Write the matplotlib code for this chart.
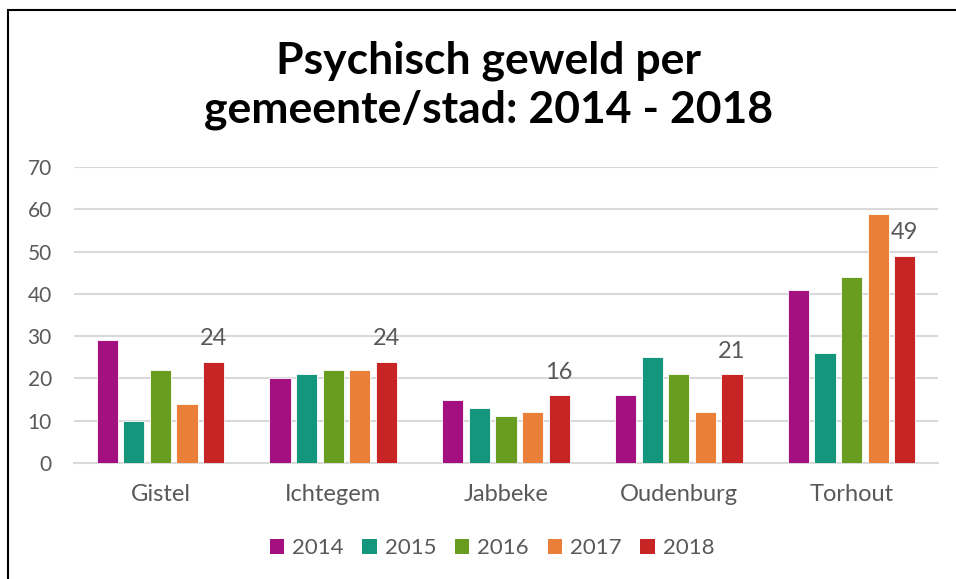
import numpy as np
import matplotlib.pyplot as plt
from matplotlib.patches import Patch, Rectangle

# data
gemeenten = ['Gistel', 'Ichtegem', 'Jabbeke', 'Oudenburg', 'Torhout']
jaren = ['2014', '2015', '2016', '2017', '2018']
v2014 = [29, 20, 15, 16, 41]
v2015 = [10, 21, 13, 25, 26]
v2016 = [22, 22, 11, 21, 44]
v2017 = [14, 22, 12, 12, 59]
v2018 = [24, 24, 16, 21, 49]
reeksen = [v2014, v2015, v2016, v2017, v2018]
kleuren = ['#A4107F', '#14967C', '#699D20', '#E97F38', '#C62425']

plt.rcParams['font.family'] = ['Lato', 'DejaVu Sans']
grijs = '#595959'

fig = plt.figure(figsize=(9.56, 5.79), dpi=100)
ax = fig.add_axes([74/956, 1-463/579, (938-74)/956, (463-167)/579])

x = np.arange(len(gemeenten))
breedte = 0.122
stap = 0.154
for i, (vals, kl) in enumerate(zip(reeksen, kleuren)):
    bars = ax.bar(x + (i-2)*stap, vals, breedte, color=kl, edgecolor='white',
                  linewidth=0.6, label=jaren[i], zorder=3)
    if i == 4:
        for b, v in zip(bars, vals):
            ax.annotate(str(v), (b.get_x()+b.get_width()/2, v), xytext=(0, 9),
                        textcoords='offset points', ha='center', va='bottom',
                        fontsize=17, color=grijs)

ax.set_xlim(-0.5, 4.5)
ax.set_ylim(0, 70)
ax.set_yticks(range(0, 71, 10))
ax.set_xticks(x)
ax.set_xticklabels(gemeenten)
ax.yaxis.grid(True, color='#D9D9D9', linewidth=1.5, zorder=0)
for s in ['top', 'right', 'left']:
    ax.spines[s].set_visible(False)
ax.spines['bottom'].set_color('#D9D9D9')
ax.spines['bottom'].set_linewidth(1.5)
ax.tick_params(axis='y', length=0, pad=16, labelsize=15, labelcolor=grijs)
ax.tick_params(axis='x', length=0, pad=15, labelsize=17, labelcolor=grijs)

fig.text(489/956, 1-85/579, 'Psychisch geweld per\ngemeente/stad: 2014 - 2018',
         ha='center', va='center', fontsize=32, fontweight='bold',
         linespacing=1.25, color='black')

handles = [Patch(facecolor=k, edgecolor='none') for k in kleuren]
fig.legend(handles, jaren, loc='center', bbox_to_anchor=(492/956, 1-548/579),
           ncol=5, frameon=False, fontsize=16, labelcolor=grijs,
           handlelength=0.65, handleheight=0.65, handletextpad=0.35,
           columnspacing=0.85)

# border of the chart area (cut off at right and bottom in the reference)
fig.add_artist(Rectangle((7.5/956, -0.1), 1.2, 1-10/579+0.1,
                         transform=fig.transFigure, fill=False,
                         edgecolor='black', linewidth=1.5))

plt.savefig('out.png', dpi=100)
